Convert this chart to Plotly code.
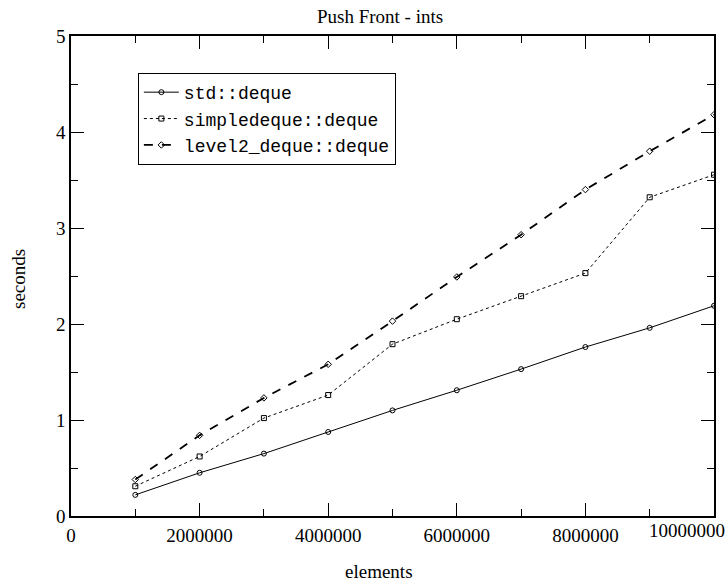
import plotly.graph_objects as go

elements = [1000000, 2000000, 3000000, 4000000, 5000000, 6000000, 7000000, 8000000, 9000000, 10000000]
std_deque = [0.22, 0.45, 0.65, 0.875, 1.10, 1.31, 1.53, 1.76, 1.96, 2.19]
simple_deque = [0.31, 0.62, 1.02, 1.26, 1.79, 2.05, 2.29, 2.53, 3.32, 3.555]
level2_deque = [0.38, 0.84, 1.23, 1.58, 2.03, 2.49, 2.93, 3.40, 3.80, 4.18]

x_max = 10000000
y_max = 5

series = [
    ("std::deque", std_deque, "solid", 1, "circle-open"),
    ("simpledeque::deque", simple_deque, "dot", 1, "square-open"),
    ("level2_deque::deque", level2_deque, "dash", 1.8, "diamond-open"),
]

SERIF = "Liberation Serif"

fig = go.Figure()
for name, ys, dash, w, sym in series:
    fig.add_trace(go.Scatter(
        x=elements, y=ys, name=name, mode="lines+markers",
        line=dict(color="black", width=w, dash=dash),
        marker=dict(symbol=sym, size=5, color="black", line=dict(width=1, color="black")),
    ))

axis_common = dict(
    showgrid=False, zeroline=False, showline=True, linecolor="black", linewidth=1.5,
    mirror="allticks", ticks="inside", ticklen=13, tickwidth=1, tickcolor="black",
    tickfont=dict(family=SERIF, size=19, color="black"),
)

fig.update_layout(
    width=728, height=583,
    margin=dict(l=71, r=12, t=36, b=67),
    paper_bgcolor="white", plot_bgcolor="white",
    title=dict(text="Push Front - ints", x=0.522, xanchor="center", y=0.9726, yanchor="middle",
               font=dict(family=SERIF, size=19, color="black")),
    xaxis=dict(range=[0, x_max], tick0=0, dtick=2000000, tickformat="d", ticklabelstandoff=1,
               minor=dict(dtick=1000000, ticks="inside", ticklen=7, tickcolor="black"),
               **axis_common),
    yaxis=dict(range=[0, y_max], tick0=0, dtick=1,
               minor=dict(dtick=0.5, ticks="inside", ticklen=7, tickcolor="black"),
               **axis_common),
    legend=dict(x=0.104, y=0.923, xanchor="left", yanchor="top",
                bordercolor="black", borderwidth=1, bgcolor="white",
                font=dict(family="Liberation Mono", size=18, color="black"),
                tracegroupgap=0, itemwidth=35),
    showlegend=True,
    annotations=[
        dict(text="elements", xref="paper", yref="paper", x=(380 - 71) / 645, y=0,
             xanchor="center", yanchor="middle", yshift=-55, showarrow=False,
             font=dict(family=SERIF, size=19, color="black")),
        dict(text="seconds", xref="paper", yref="paper", x=0, y=(516 - 279) / 480,
             xanchor="center", yanchor="middle", xshift=-53, textangle=-90, showarrow=False,
             font=dict(family=SERIF, size=19, color="black")),
        dict(text=f"{x_max:d}", xref="x", yref="paper", x=x_max, y=0,
             xanchor="center", yanchor="middle", xshift=-27, yshift=-14, showarrow=False,
             font=dict(family=SERIF, size=19, color="black")),
    ],
)

fig.write_html("out.html", config={"displayModeBar": False},
               post_script="document.body.style.margin='0';")
